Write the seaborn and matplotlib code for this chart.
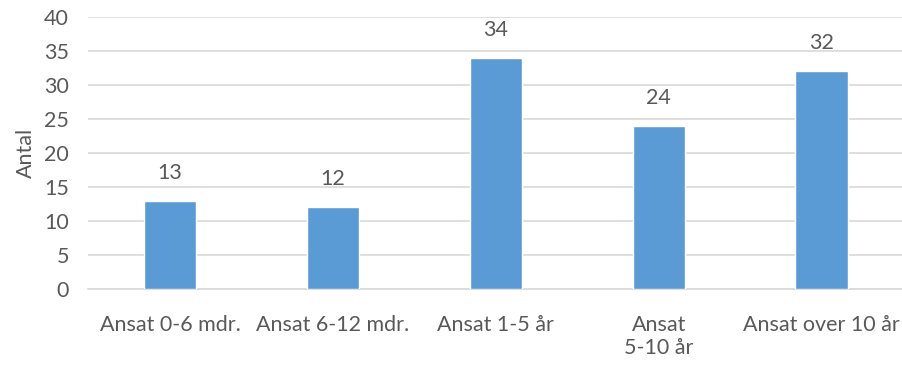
import matplotlib
matplotlib.use("Agg")
import matplotlib.pyplot as plt
import seaborn as sns
import pandas as pd

categories = ["Ansat 0-6 mdr.", "Ansat 6-12 mdr.", "Ansat 1-5 år", "Ansat\n5-10 år", "Ansat over 10 år"]
counts = [13, 12, 34, 24, 32]
y_ticks = [0, 5, 10, 15, 20, 25, 30, 35, 40]

df = pd.DataFrame({"kategori": categories, "antal": counts})

sns.set_theme(style="white")
plt.rcParams["font.family"] = ["Lato", "DejaVu Sans"]

text_color = "#595959"
grid_color = "#D9D9D9"
bar_color = "#5B9BD5"
fs = 15.5

fig = plt.figure(figsize=(9.03, 3.67), dpi=100)
ax = fig.add_axes([0.098, 0.2125, 0.902, 0.7412])

sns.barplot(data=df, x="kategori", y="antal", color=bar_color, width=0.32,
            saturation=1, ax=ax, zorder=3)

ax.set_ylim(0, 40)
ax.set_yticks(y_ticks)
ax.set_xlim(-0.5, len(categories) - 0.5)
ax.yaxis.grid(True, color=grid_color, linewidth=1.2, zorder=0)
ax.set_axisbelow(True)
for side in ["top", "right", "left"]:
    ax.spines[side].set_visible(False)
ax.spines["bottom"].set_color(grid_color)
ax.spines["bottom"].set_linewidth(1.2)

ax.tick_params(axis="y", length=0, pad=14, labelsize=fs, labelcolor=text_color)
ax.tick_params(axis="x", length=0, pad=19, labelsize=fs, labelcolor=text_color)
for lbl in ax.get_xticklabels():
    lbl.set_verticalalignment("top")
    lbl.set_linespacing(1.15)

ax.set_xlabel("")
ax.set_ylabel("Antal", fontsize=fs, color=text_color, labelpad=6)

for i, v in enumerate(counts):
    ax.annotate(str(v), xy=(i, v), xytext=(0, 13), textcoords="offset points",
                ha="center", va="bottom", fontsize=fs, color=text_color)

fig.savefig("out.png", dpi=100)
